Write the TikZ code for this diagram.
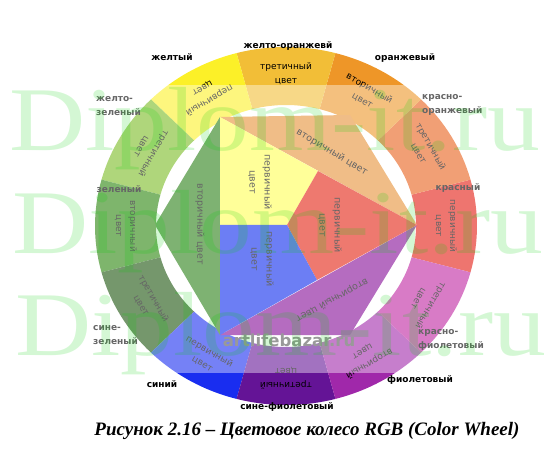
\documentclass[tikz,border=0pt]{standalone}
\usepackage{fontspec}
\setmainfont{Liberation Serif}
\newfontfamily\lblfont{DejaVu Sans}
\usetikzlibrary{positioning}

% colours of the outer ring
\definecolor{cRed}{RGB}{228,25,15}
\definecolor{cRedOr}{RGB}{232,95,25}
\definecolor{cOrange}{RGB}{238,150,40}
\definecolor{cYelOr}{RGB}{242,190,55}
\definecolor{cYellow}{RGB}{252,240,40}
\definecolor{cYelGr}{RGB}{122,188,35}
\definecolor{cGreen}{RGB}{40,132,10}
\definecolor{cBlueGr}{RGB}{25,82,10}
\definecolor{cBlue}{RGB}{25,45,240}
\definecolor{cBlueVi}{RGB}{100,20,150}
\definecolor{cViolet}{RGB}{160,40,170}
\definecolor{cRedVi}{RGB}{190,35,160}
% colours of the centre
\definecolor{iYellow}{RGB}{255,255,85}
\definecolor{iRed}{RGB}{228,32,15}
\definecolor{iBlue}{RGB}{10,40,238}
\definecolor{iOrange}{RGB}{230,145,55}
\definecolor{iGreen}{RGB}{40,128,20}
\definecolor{iPurple}{RGB}{132,10,150}
\definecolor{wmGreen}{RGB}{0,210,0}

\begin{document}
\begin{tikzpicture}[x=1pt,y=-1pt,font=\lblfont]
\tikzset{
    %text inside the ring
    seglbl/.style={
           align=center,
           inner sep=0pt,
           font=\lblfont\fontsize{9}{14}\selectfont},
    %names round the wheel
    namelbl/.style={
           align=left,
           inner sep=0pt,
           font=\lblfont\bfseries\fontsize{9}{14}\selectfont},
    %text inside the centre
    midlbl/.style={
           align=center,
           inner sep=0pt,
           font=\lblfont\fontsize{9.5}{15}\selectfont},
    %big watermark
    wmark/.style={
           anchor=base west,
           inner sep=0pt,
           text=wmGreen,
           opacity=0.17,
           xscale=1.16,
           transform shape,
           font=\fontsize{91}{91}\selectfont}
}
	\path[use as bounding box] (0,0) rectangle (550,460);

 %ring
	\begin{scope}[shift={(286pt,-226pt)},y=1pt]
	\foreach \ang/\col in {0/cRed,30/cRedOr,60/cOrange,90/cYelOr,120/cYellow,150/cYelGr,180/cGreen,210/cBlueGr,240/cBlue,270/cBlueVi,300/cViolet,330/cRedVi}
		\fill[\col] (\ang-15:191 and 179) arc[start angle=\ang-15,end angle=\ang+15,x radius=191,y radius=179]
			-- (\ang+15:130 and 121) arc[start angle=\ang+15,end angle=\ang-15,x radius=130,y radius=121] -- cycle;

	\foreach \ang/\rot/\txt in {0/-90/первичный,30/-60/третичный,60/-30/вторичный,90/0/третичный,120/210/первичный,150/240/третичный,180/270/вторичный,210/300/третичный,240/330/первичный,270/180/третичный,300/210/вторичный,330/240/третичный}
		\node[seglbl,rotate=\rot] (seg\ang) at (\ang:160 and 152) {\txt\\цвет};
	\end{scope}

 %centre
	\coordinate (hexNW) at (220,117);
	\coordinate (hexNE) at (350,115);
	\coordinate (hexE) at (417,225);
	\coordinate (hexSE) at (350,335);
	\coordinate (hexSW) at (220,335);
	\coordinate (hexW) at (155,225);
	\coordinate (midW) at (220,225);
	\coordinate (midC) at (287,225);
	\coordinate (midN) at (318,171);
	\coordinate (midS) at (317,280);

	\fill[iGreen] (hexNW) -- (hexW) -- (hexSW) -- cycle;
	\fill[iOrange] (hexNW) -- (hexNE) -- (hexE) -- cycle;
	\fill[iPurple] (hexE) -- (hexSE) -- (hexSW) -- cycle;
	\fill[iYellow] (hexNW) -- (midN) -- (midC) -- (midW) -- cycle;
	\fill[iRed] (midC) -- (midN) -- (hexE) -- (midS) -- cycle;
	\fill[iBlue] (midW) -- (midC) -- (midS) -- (hexSW) -- cycle;

	\node[midlbl,rotate=-90] (txtYellow) at (260,182) {первичный\\цвет};
	\node[midlbl,rotate=-90] (txtRed) at (330,225) {первичный\\цвет};
	\node[midlbl,rotate=-90] (txtBlue) at (262,259) {первичный\\цвет};
	\node[midlbl,rotate=-90] (txtGreen) at (200,224) {вторичный цвет};
	\node[midlbl,rotate=-31] (txtOrange) at (332,152) {вторичный цвет};
	\node[midlbl,rotate=209] (txtPurple) at (332,300) {вторичный цвет};

 %names
	\node[namelbl] (nYellow) at (172,57) {желтый};
	\node[namelbl] (nYelOr) at (288,46) {желто-оранжевй};
	\node[namelbl] (nOrange) at (405,58) {оранжевый};
	\node[namelbl,anchor=west] (nRedOr) at (422,105) {красно-\\оранжевый};
	\node[namelbl] (nRed) at (458,188) {красный};
	\node[namelbl,anchor=west] (nRedVi) at (418,340) {красно-\\фиолетовый};
	\node[namelbl] (nViolet) at (420,380) {фиолетовый};
	\node[namelbl] (nBlueVi) at (287,407) {сине-фиолетовый};
	\node[namelbl] (nBlue) at (162,384) {синий};
	\node[namelbl,anchor=west] (nBlueGr) at (93,335) {сине-\\зеленый};
	\node[namelbl] (nGreen) at (119,189) {зеленый};
	\node[namelbl,anchor=west] (nYelGr) at (96,106) {желто-\\зеленый};

 %faded band and watermarks
	\fill[white,opacity=0.4] (0,85) rectangle (550,373);
	\node[font=\lblfont\bfseries\fontsize{16.5}{18}\selectfont,text=black!40] (site) at (289,340) {artlifebazar.ru};
	\node[wmark] (wm1) at (9,151) {Diplom-it.ru};
	\node[wmark] (wm2) at (12,253) {Diplom-it.ru};
	\node[wmark] (wm3) at (15,355) {Diplom-it.ru};

	\node[font=\fontsize{19}{22}\selectfont\bfseries\itshape,anchor=base] (caption) at (307,435) {Рисунок 2.16 – Цветовое колесо RGB (Color Wheel)};

\end{tikzpicture}
\end{document}
